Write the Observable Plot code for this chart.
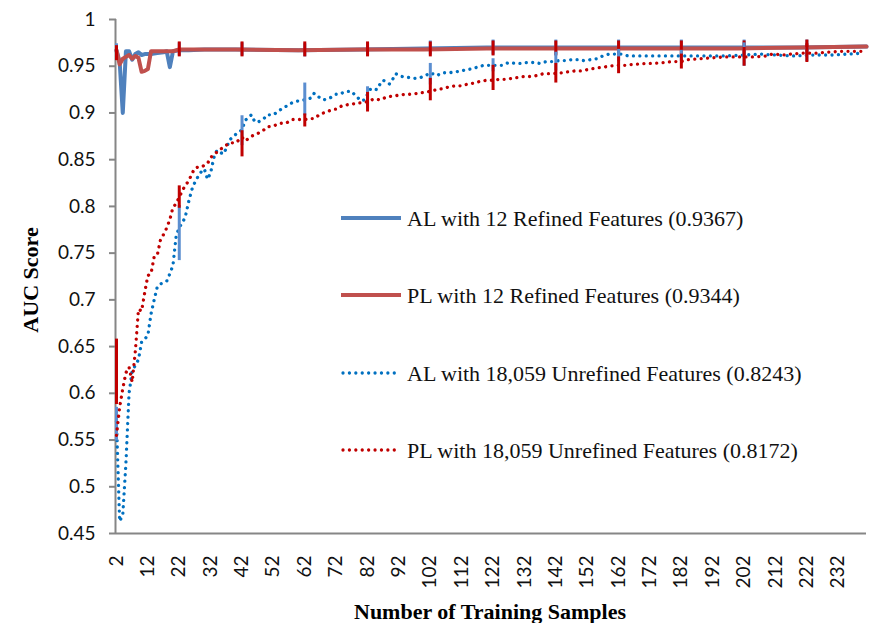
<!DOCTYPE html>
<html><head><meta charset="utf-8">
<script src="https://cdn.jsdelivr.net/npm/d3@7"></script>
<script src="https://cdn.jsdelivr.net/npm/@observablehq/plot@0.6"></script>
<style>
html,body{margin:0;padding:0;background:#fff;}
#wrap{position:relative;width:878px;height:623px;overflow:hidden;}
#overlay{position:absolute;left:0;top:0;pointer-events:none;}
#overlay text{font-family:"Liberation Serif","Times New Roman",serif;}
</style></head><body><div id="wrap"></div>
<script>
// ---- data ----
const seriesNames = [
  "AL with 12 Refined Features (0.9367)",
  "PL with 12 Refined Features (0.9344)",
  "AL with 18,059 Unrefined Features (0.8243)",
  "PL with 18,059 Unrefined Features (0.8172)"
];
const xTicks = d3.range(2, 233, 10);
const yTicks = [0.45,0.5,0.55,0.6,0.65,0.7,0.75,0.8,0.85,0.9,0.95,1];

const alRefX = [2,3,4,5,6,7,8,9,10,11,13,15,17,18,19,20,22,25,30,40,60,80,100,120,140,160,180,200,220,241];
const alRefY = [0.967,0.955,0.900,0.966,0.966,0.957,0.963,0.965,0.962,0.963,0.963,0.964,0.965,0.966,0.949,0.966,0.967,0.967,0.968,0.968,0.967,0.968,0.969,0.970,0.970,0.970,0.970,0.970,0.970,0.971];

const plRefX = [2,3,4,5,6,7,8,9,10,11,12,13,16,20,22,40,60,80,100,120,140,160,180,200,220,241];
const plRefY = [0.967,0.952,0.958,0.960,0.962,0.958,0.961,0.959,0.944,0.945,0.947,0.966,0.966,0.966,0.968,0.968,0.967,0.968,0.968,0.969,0.969,0.969,0.969,0.969,0.970,0.971];

const alUnX = [2,3,4,5,6,7,8,9,10,11,12,13,14,15,16,18,19,20,21,22,23,24,25,26,27,28,29,30,31,32,33,34,36,37,38,40,42,43,45,46,47,49,50,52,54,55,57,58,60,62,64,65,66,68,70,72,73,75,77,78,80,81,82,83,85,86,87,89,90,91,93,95,97,99,101,102,104,106,108,110,112,113,115,117,119,122,125,127,129,131,133,135,137,139,141,143,145,147,149,151,153,155,157,159,161,163,165,180,195,202,207,212,218,224,230,235,240];
const alUnY = [0.570,0.463,0.470,0.525,0.600,0.624,0.630,0.636,0.655,0.658,0.662,0.685,0.700,0.714,0.717,0.720,0.728,0.737,0.768,0.778,0.782,0.790,0.805,0.818,0.826,0.832,0.837,0.840,0.829,0.836,0.852,0.860,0.856,0.862,0.871,0.877,0.882,0.892,0.898,0.891,0.890,0.894,0.898,0.898,0.903,0.905,0.909,0.911,0.913,0.914,0.916,0.921,0.918,0.914,0.916,0.920,0.920,0.923,0.923,0.919,0.913,0.914,0.920,0.926,0.925,0.931,0.935,0.931,0.936,0.942,0.939,0.938,0.937,0.938,0.941,0.943,0.940,0.943,0.943,0.944,0.945,0.946,0.947,0.949,0.951,0.951,0.951,0.954,0.953,0.953,0.954,0.954,0.953,0.955,0.955,0.956,0.956,0.957,0.957,0.956,0.957,0.958,0.961,0.963,0.963,0.963,0.961,0.961,0.961,0.962,0.963,0.962,0.961,0.962,0.962,0.963,0.964];

const plUnX = [2,3,4,5,6,7,8,9,10,11,12,13,14,15,16,17,18,19,20,21,22,23,24,25,26,27,28,29,30,31,32,33,34,35,36,38,40,42,43,45,47,49,50,52,54,56,58,60,62,64,65,67,69,71,72,74,76,78,80,82,84,86,88,90,92,94,96,98,100,102,104,106,108,110,112,114,116,118,120,122,124,126,128,130,132,134,136,138,140,144,146,148,150,153,155,157,159,162,164,167,171,173,177,179,182,184,188,192,196,199,202,206,209,211,215,217,221,225,229,233,237,240];
const plUnY = [0.555,0.585,0.605,0.622,0.628,0.612,0.645,0.690,0.688,0.708,0.726,0.728,0.746,0.748,0.764,0.770,0.777,0.786,0.799,0.803,0.810,0.817,0.823,0.827,0.835,0.841,0.842,0.842,0.844,0.846,0.852,0.856,0.858,0.861,0.863,0.868,0.868,0.874,0.870,0.875,0.878,0.882,0.885,0.886,0.889,0.889,0.893,0.893,0.893,0.894,0.894,0.899,0.901,0.904,0.904,0.908,0.909,0.910,0.911,0.912,0.915,0.914,0.917,0.918,0.919,0.920,0.920,0.921,0.922,0.923,0.925,0.926,0.928,0.929,0.929,0.931,0.932,0.934,0.935,0.935,0.936,0.936,0.937,0.938,0.939,0.939,0.940,0.942,0.942,0.943,0.944,0.945,0.945,0.947,0.948,0.949,0.950,0.951,0.951,0.952,0.953,0.953,0.954,0.955,0.955,0.957,0.958,0.959,0.960,0.960,0.960,0.960,0.961,0.963,0.962,0.963,0.964,0.964,0.965,0.966,0.966,0.966];

// error bars (every 20 samples): low / high
const barX = [2,22,42,62,82,102,122,142,162,182,202,222];
const alRefLo = [0.960,0.961,0.961,0.960,0.961,0.962,0.962,0.962,0.962,0.962,0.962,0.962];
const alRefHi = [0.974,0.975,0.975,0.974,0.975,0.977,0.978,0.978,0.978,0.978,0.978,0.978];
const plRefLo = [0.956,0.960,0.960,0.960,0.960,0.960,0.961,0.961,0.961,0.961,0.961,0.962];
const plRefHi = [0.972,0.976,0.976,0.976,0.976,0.976,0.977,0.977,0.977,0.977,0.977,0.978];
const alUnLo = [0.549,0.742,0.865,0.897,0.905,0.930,0.944,0.945,0.955,0.955,0.950,0.955];
const alUnHi = [0.585,0.801,0.897,0.932,0.928,0.953,0.958,0.965,0.968,0.967,0.975,0.970];
const plUnLo = [0.588,0.798,0.853,0.885,0.901,0.913,0.924,0.932,0.942,0.947,0.950,0.954];
const plUnHi = [0.658,0.822,0.881,0.899,0.922,0.937,0.951,0.953,0.960,0.963,0.970,0.974];

const colors = {alRef:"#4F81BD", plRef:"#C0504D", alUn:"#0070C0", plUn:"#C00000", alBar:"#5B8ED0", plBar:"#C00000"};

const pts = (xs, ys) => xs.map((x,i)=>({x, y: ys[i]}));
const bars = (lo, hi) => barX.map((x,i)=>({x, lo: lo[i], hi: hi[i]}));

const dotted = {strokeWidth: 3.3, strokeDasharray: "0.01,6.4", strokeLinecap: "round"};

const chart = Plot.plot({
  width: 878, height: 623,
  marginLeft: 116, marginRight: 12, marginTop: 19, marginBottom: 90,
  x: {domain: [2, 241]},
  y: {domain: [0.45, 1]},
  style: {fontFamily: "Lato, sans-serif", fontSize: "19px", color: "#000", background: "#fff", overflow: "visible"},
  marks: [
    Plot.axisY({ticks: yTicks, tickSize: 7, tickPadding: 14, stroke: "#868686", strokeWidth: 2, fill: "#111",
      tickFormat: d => String(+d.toFixed(2)), label: null, fontSize: 19}),
    Plot.axisX({ticks: xTicks, tickSize: 0, tickPadding: 22, tickRotate: -90, fill: "#111",
      tickFormat: d => String(d), label: null, fontSize: 19}),
    Plot.ruleY([0.45], {stroke: "#868686", strokeWidth: 2}),
    Plot.ruleX([2], {stroke: "#868686", strokeWidth: 2, dx: -1}),
    Plot.line(pts(alRefX, alRefY), {x: "x", y: "y", stroke: colors.alRef, strokeWidth: 4, strokeLinejoin: "round"}),
    Plot.ruleX(bars(alRefLo, alRefHi), {x: "x", y1: "lo", y2: "hi", stroke: colors.alBar, strokeWidth: 3}),
    Plot.line(pts(plRefX, plRefY), {x: "x", y: "y", stroke: colors.plRef, strokeWidth: 4, strokeLinejoin: "round"}),
    Plot.ruleX(bars(plRefLo, plRefHi), {x: "x", y1: "lo", y2: "hi", stroke: colors.plBar, strokeWidth: 3}),
    Plot.line(pts(alUnX, alUnY), {x: "x", y: "y", stroke: colors.alUn, ...dotted}),
    Plot.ruleX(bars(alUnLo, alUnHi), {x: "x", y1: "lo", y2: "hi", stroke: colors.alBar, strokeWidth: 3}),
    Plot.line(pts(plUnX, plUnY), {x: "x", y: "y", stroke: colors.plUn, ...dotted}),
    Plot.ruleX(bars(plUnLo, plUnHi), {x: "x", y1: "lo", y2: "hi", stroke: colors.plBar, strokeWidth: 3})
  ]
});

const wrap = document.getElementById("wrap");
wrap.appendChild(chart);

// overlay: legend + axis titles
const ns = "http://www.w3.org/2000/svg";
const ov = document.createElementNS(ns, "svg");
ov.setAttribute("id", "overlay");
ov.setAttribute("width", 878); ov.setAttribute("height", 623);
const legendStyles = [
  {stroke: colors.alRef, w: 4, dash: null},
  {stroke: colors.plRef, w: 4, dash: null},
  {stroke: colors.alUn, w: 3.3, dash: "0.01,6.4"},
  {stroke: colors.plUn, w: 3.3, dash: "0.01,6.4"}
];
const rowY = [218, 295, 373, 450];
seriesNames.forEach((name, i) => {
  const s = legendStyles[i];
  const ln = document.createElementNS(ns, "line");
  ln.setAttribute("x1", s.dash ? 343 : 341); ln.setAttribute("x2", s.dash ? 397 : 401);
  ln.setAttribute("y1", rowY[i]); ln.setAttribute("y2", rowY[i]);
  ln.setAttribute("stroke", s.stroke); ln.setAttribute("stroke-width", s.w);
  if (s.dash) { ln.setAttribute("stroke-dasharray", s.dash); ln.setAttribute("stroke-linecap", "round"); }
  ov.appendChild(ln);
  const t = document.createElementNS(ns, "text");
  t.setAttribute("x", 407); t.setAttribute("y", rowY[i] + 8);
  t.setAttribute("font-size", 22);
  t.setAttribute("fill", "#111");
  t.textContent = name;
  ov.appendChild(t);
});
const yt = document.createElementNS(ns, "text");
yt.setAttribute("transform", "translate(38,280) rotate(-90)");
yt.setAttribute("text-anchor", "middle");
yt.setAttribute("font-weight", "bold"); yt.setAttribute("font-size", 22);
yt.textContent = "AUC Score";
ov.appendChild(yt);
const xt = document.createElementNS(ns, "text");
xt.setAttribute("x", 490); xt.setAttribute("y", 619);
xt.setAttribute("text-anchor", "middle");
xt.setAttribute("font-weight", "bold"); xt.setAttribute("font-size", 22);
xt.textContent = "Number of Training Samples";
ov.appendChild(xt);
wrap.appendChild(ov);
</script>
</body></html>
